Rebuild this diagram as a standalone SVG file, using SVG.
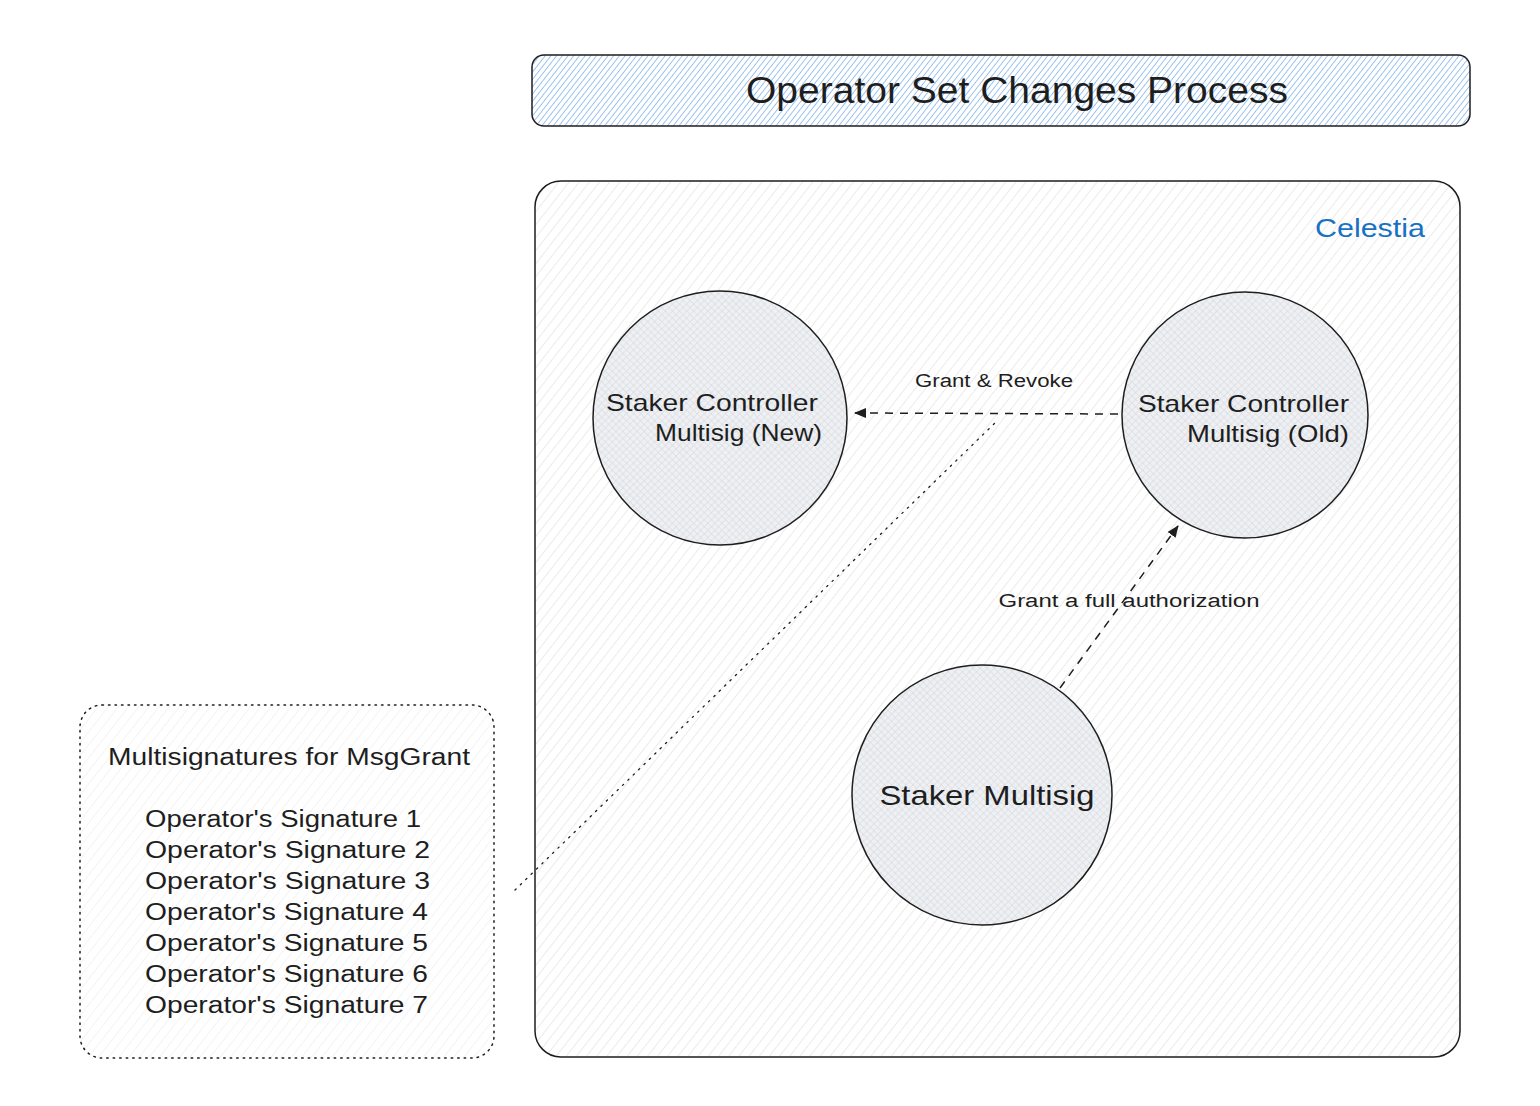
<svg xmlns="http://www.w3.org/2000/svg" width="1540" height="1106" viewBox="0 0 1540 1106">
<defs>
<pattern id="hBlue" width="4.5" height="4.5" patternUnits="userSpaceOnUse" patternTransform="rotate(38)">
<rect width="4.5" height="4.5" fill="#ffffff"/>
<line x1="0" y1="0" x2="0" y2="4.5" stroke="#5d9de6" stroke-width="1.2"/>
</pattern>
<pattern id="hGray" width="8" height="8" patternUnits="userSpaceOnUse" patternTransform="rotate(38)">
<rect width="8" height="8" fill="#ffffff"/>
<line x1="0" y1="0" x2="0" y2="8" stroke="#d8d8d8" stroke-width="1"/>
</pattern>
<pattern id="hLight" width="8" height="8" patternUnits="userSpaceOnUse" patternTransform="rotate(38)">
<rect width="8" height="8" fill="#ffffff"/>
<line x1="0" y1="0" x2="0" y2="8" stroke="#eaeaea" stroke-width="1"/>
</pattern>
<pattern id="hCross" width="5" height="5" patternUnits="userSpaceOnUse" patternTransform="rotate(-45)">
<rect width="5" height="5" fill="#eef0f3"/>
<line x1="0" y1="0" x2="0" y2="5" stroke="#cfd4da" stroke-width="0.9"/>
<line x1="0" y1="0" x2="5" y2="0" stroke="#cfd4da" stroke-width="0.9"/>
</pattern>
<marker id="arr" viewBox="0 0 12 10" refX="11" refY="5" markerWidth="12" markerHeight="10" markerUnits="userSpaceOnUse" orient="auto">
<path d="M0,0 L12,5 L0,10 Z" fill="#1e1e1e"/>
</marker>
</defs>
<style>
.t{font-family:"Liberation Sans","Noto Sans",sans-serif;fill:#1e1e1e}
.node{stroke:#1e1e1e;stroke-width:1.5}
.lbl{font-size:18px}
</style>
<rect width="1540" height="1106" fill="#ffffff"/>

<g id="title">
<rect x="532" y="55" width="938" height="71" rx="12" fill="url(#hBlue)" stroke="#1e1e1e" stroke-width="1.5"/>
<text class="t" x="1017" y="103" font-size="36" text-anchor="middle" textLength="542" lengthAdjust="spacingAndGlyphs">Operator Set Changes Process</text>
</g>

<g id="celestia">
<rect x="535" y="181" width="925" height="876" rx="26" fill="url(#hGray)" stroke="#1e1e1e" stroke-width="1.5"/>
<text class="t" x="1425" y="237" font-size="26" text-anchor="end" style="fill:#1971c2" textLength="110" lengthAdjust="spacingAndGlyphs">Celestia</text>
</g>

<g id="msig-box">
<rect x="80" y="705" width="414" height="353" rx="22" fill="url(#hLight)" stroke="#1e1e1e" stroke-width="1.5" stroke-dasharray="1.5 5" stroke-linecap="round"/>
<text class="t" x="108" y="765" font-size="23" textLength="362" lengthAdjust="spacingAndGlyphs">Multisignatures for MsgGrant</text>
<g class="t" font-size="23">
<text x="145" y="827" textLength="276" lengthAdjust="spacingAndGlyphs">Operator's Signature 1</text>
<text x="145" y="858" textLength="285" lengthAdjust="spacingAndGlyphs">Operator's Signature 2</text>
<text x="145" y="889" textLength="285" lengthAdjust="spacingAndGlyphs">Operator's Signature 3</text>
<text x="145" y="920" textLength="283" lengthAdjust="spacingAndGlyphs">Operator's Signature 4</text>
<text x="145" y="951" textLength="283" lengthAdjust="spacingAndGlyphs">Operator's Signature 5</text>
<text x="145" y="982" textLength="283" lengthAdjust="spacingAndGlyphs">Operator's Signature 6</text>
<text x="145" y="1013" textLength="283" lengthAdjust="spacingAndGlyphs">Operator's Signature 7</text>
</g>
</g>

<g id="node-new">
<circle class="node" cx="720" cy="418" r="127" fill="url(#hCross)"/>
<text class="t" x="818" y="411" font-size="24" text-anchor="end" textLength="212" lengthAdjust="spacingAndGlyphs">Staker Controller</text>
<text class="t" x="822" y="441" font-size="24" text-anchor="end" textLength="167" lengthAdjust="spacingAndGlyphs">Multisig (New)</text>
</g>

<g id="node-old">
<circle class="node" cx="1245" cy="415" r="123" fill="url(#hCross)"/>
<text class="t" x="1349" y="412" font-size="24" text-anchor="end" textLength="211" lengthAdjust="spacingAndGlyphs">Staker Controller</text>
<text class="t" x="1349" y="442" font-size="24" text-anchor="end" textLength="162" lengthAdjust="spacingAndGlyphs">Multisig (Old)</text>
</g>

<g id="node-staker">
<circle class="node" cx="982" cy="795" r="130" fill="url(#hCross)"/>
<text class="t" x="987" y="805" font-size="28" text-anchor="middle" textLength="215" lengthAdjust="spacingAndGlyphs">Staker Multisig</text>
</g>

<g id="connectors" fill="none" stroke="#1e1e1e">
<line x1="1118" y1="414" x2="855" y2="413" stroke-width="1.5" stroke-dasharray="8 7" marker-end="url(#arr)"/>
<line x1="1060" y1="688" x2="1178" y2="526" stroke-width="1.5" stroke-dasharray="8 7" marker-end="url(#arr)"/>
<line x1="515" y1="890" x2="998" y2="420" stroke-width="1.3" stroke-dasharray="1.5 6" stroke-linecap="round"/>
</g>

<g id="labels">
<text class="t lbl" x="994" y="387" text-anchor="middle" textLength="158" lengthAdjust="spacingAndGlyphs">Grant &amp; Revoke</text>
<text class="t lbl" x="1129" y="607" text-anchor="middle" textLength="261" lengthAdjust="spacingAndGlyphs">Grant a full authorization</text>
</g>
</svg>
